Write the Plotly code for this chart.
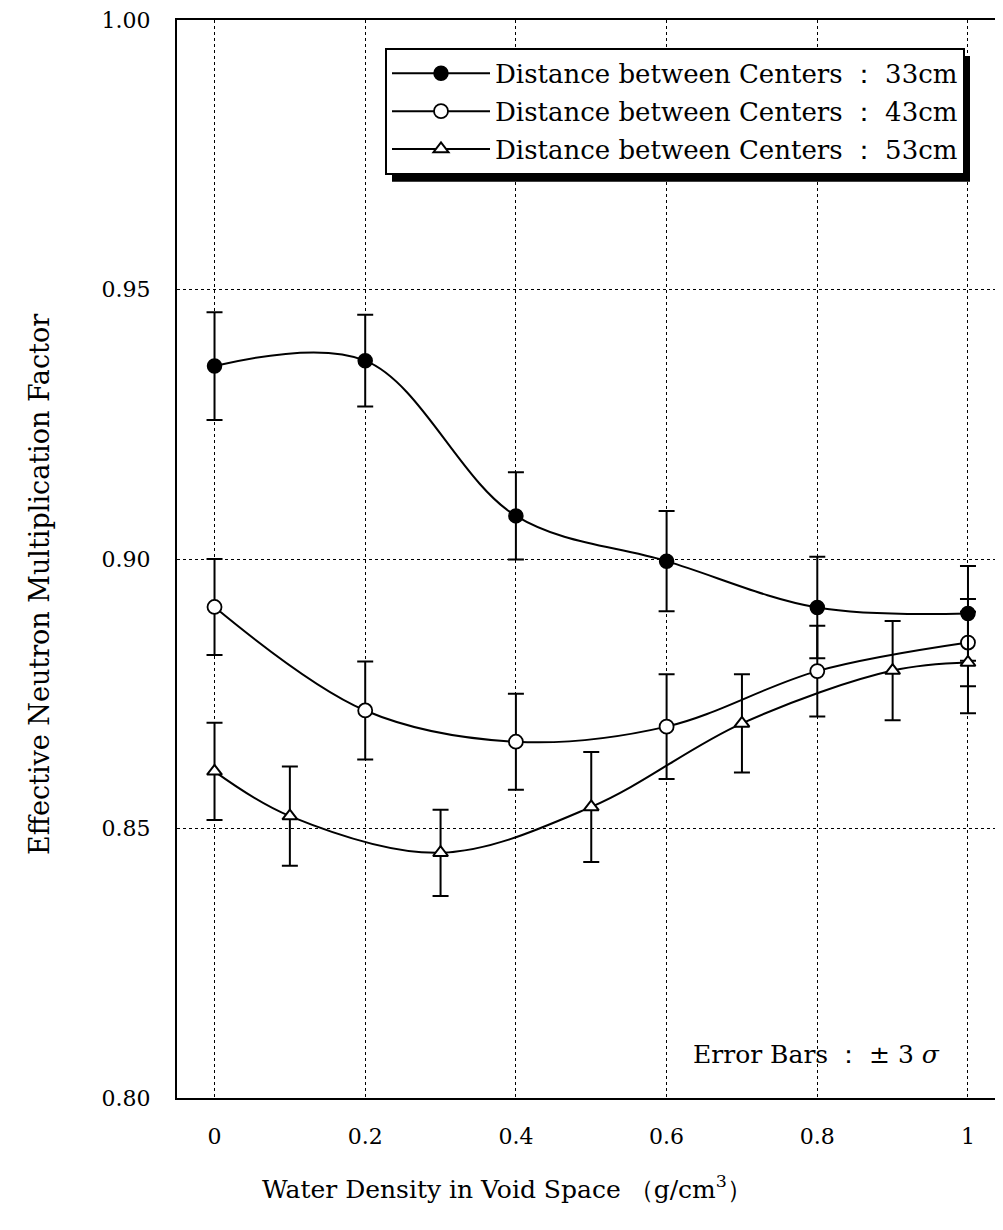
import plotly.graph_objects as go

# ---- data ----
x_33 = [0.0, 0.2, 0.4, 0.6, 0.8, 1.0]
y_33 = [0.9358, 0.9368, 0.9080, 0.8996, 0.8910, 0.8899]
e_33 = [0.0100, 0.0085, 0.0081, 0.0093, 0.0094, 0.0088]

x_43 = [0.0, 0.2, 0.4, 0.6, 0.8, 1.0]
y_43 = [0.8911, 0.8719, 0.8661, 0.8689, 0.8792, 0.8845]
e_43 = [0.0089, 0.0091, 0.0089, 0.0097, 0.0084, 0.0081]

x_53 = [0.0, 0.1, 0.3, 0.5, 0.7, 0.9, 1.0]
y_53 = [0.8606, 0.8523, 0.8455, 0.8540, 0.8695, 0.8793, 0.8808]
e_53 = [0.0090, 0.0092, 0.0080, 0.0102, 0.0091, 0.0092, 0.0094]

names = ["Distance between Centers \uff1a 33cm",
         "Distance between Centers \uff1a 43cm",
         "Distance between Centers \uff1a 53cm"]

x_ticks = [0, 0.2, 0.4, 0.6, 0.8, 1.0]
x_ticklabels = ["0", "0.2", "0.4", "0.6", "0.8", "1"]
y_ticks = [0.80, 0.85, 0.90, 0.95, 1.00]
y_ticklabels = ["0.80", "0.85", "0.90", "0.95", "1.00"]

FONT = "DejaVu Serif"

fig = go.Figure()

series = [
    (x_33, y_33, e_33, names[0], dict(symbol="circle", size=14, color="black",
                                       line=dict(color="black", width=1.5))),
    (x_43, y_43, e_43, names[1], dict(symbol="circle", size=14, color="white",
                                       line=dict(color="black", width=1.8))),
    (x_53, y_53, e_53, names[2], dict(symbol="triangle-up", size=13, color="white",
                                       line=dict(color="black", width=2))),
]

for i, (xs, ys, es, nm, mk) in enumerate(series):
    fig.add_trace(go.Scatter(
        x=xs, y=ys, name=nm, mode="lines+markers",
        line=dict(color="black", width=2, shape="spline", smoothing=1.0),
        marker=mk,
        error_y=dict(type="data", array=es, visible=True, color="black",
                     thickness=2, width=8),
        legendgroup=f"g{i}",
    ))

# page is shown with an 8px body margin, so figure coords = page coords - 8
W, H = 1003, 1230
ML, MR, MT, MB = 169, 0, 10, 140
pw, ph = W - ML - MR, H - MT - MB


def px(fx):
    return (fx - ML) / pw


def py(fy):
    return (H - MB - fy) / ph


fig.update_layout(
    width=W, height=H,
    margin=dict(l=ML, r=MR, t=MT, b=MB),
    paper_bgcolor="white", plot_bgcolor="white",
    font=dict(family=FONT, color="black", size=22),
    showlegend=True,
    legend=dict(
        x=px(377), y=py(38), xanchor="left", yanchor="top",
        bgcolor="white", bordercolor="black", borderwidth=2,
        font=dict(family=FONT, size=26, color="black"),
        tracegroupgap=1, itemwidth=98,
    ),
)

fig.update_xaxes(
    range=[-0.0498, 1.0571],
    tickvals=x_ticks, ticktext=x_ticklabels,
    showline=True, linecolor="black", linewidth=2, mirror=True,
    showgrid=True, gridcolor="black", gridwidth=1, griddash="dot",
    zeroline=False, ticks="", ticklabelstandoff=18,
    tickfont=dict(family=FONT, size=22),
)
fig.update_yaxes(
    range=[0.80, 1.00],
    tickvals=y_ticks, ticktext=y_ticklabels,
    showline=True, linecolor="black", linewidth=2, mirror=False,
    showgrid=True, gridcolor="black", gridwidth=1, griddash="dot",
    zeroline=False, ticks="", ticklabelstandoff=20,
    ticklabeloverflow="allow",
    tickfont=dict(family=FONT, size=22),
)

# axis titles
fig.add_annotation(
    text="Water Density in Void Space \uff08g/cm<sup>3</sup>\uff09",
    xref="paper", yref="paper", x=px(499), y=py(1180),
    xanchor="center", yanchor="middle", showarrow=False,
    font=dict(family=FONT, size=25),
)
fig.add_annotation(
    text="Effective Neutron Multiplication Factor",
    xref="paper", yref="paper", x=px(32), y=py(576),
    xanchor="center", yanchor="middle", showarrow=False, textangle=-90,
    font=dict(family=FONT, size=27),
)
fig.add_annotation(
    text="Error Bars \uff1a \u00b1 3 <i>\u03c3</i>",
    xref="paper", yref="paper", x=px(934), y=py(1046),
    xanchor="right", yanchor="middle", showarrow=False,
    font=dict(family=FONT, size=25),
)

# legend drop shadow
fig.add_shape(
    type="rect", xref="paper", yref="paper",
    x0=px(384), x1=px(962), y0=py(172), y1=py(46),
    fillcolor="black", line=dict(width=0), layer="above",
)

fig.write_html("out.html")
